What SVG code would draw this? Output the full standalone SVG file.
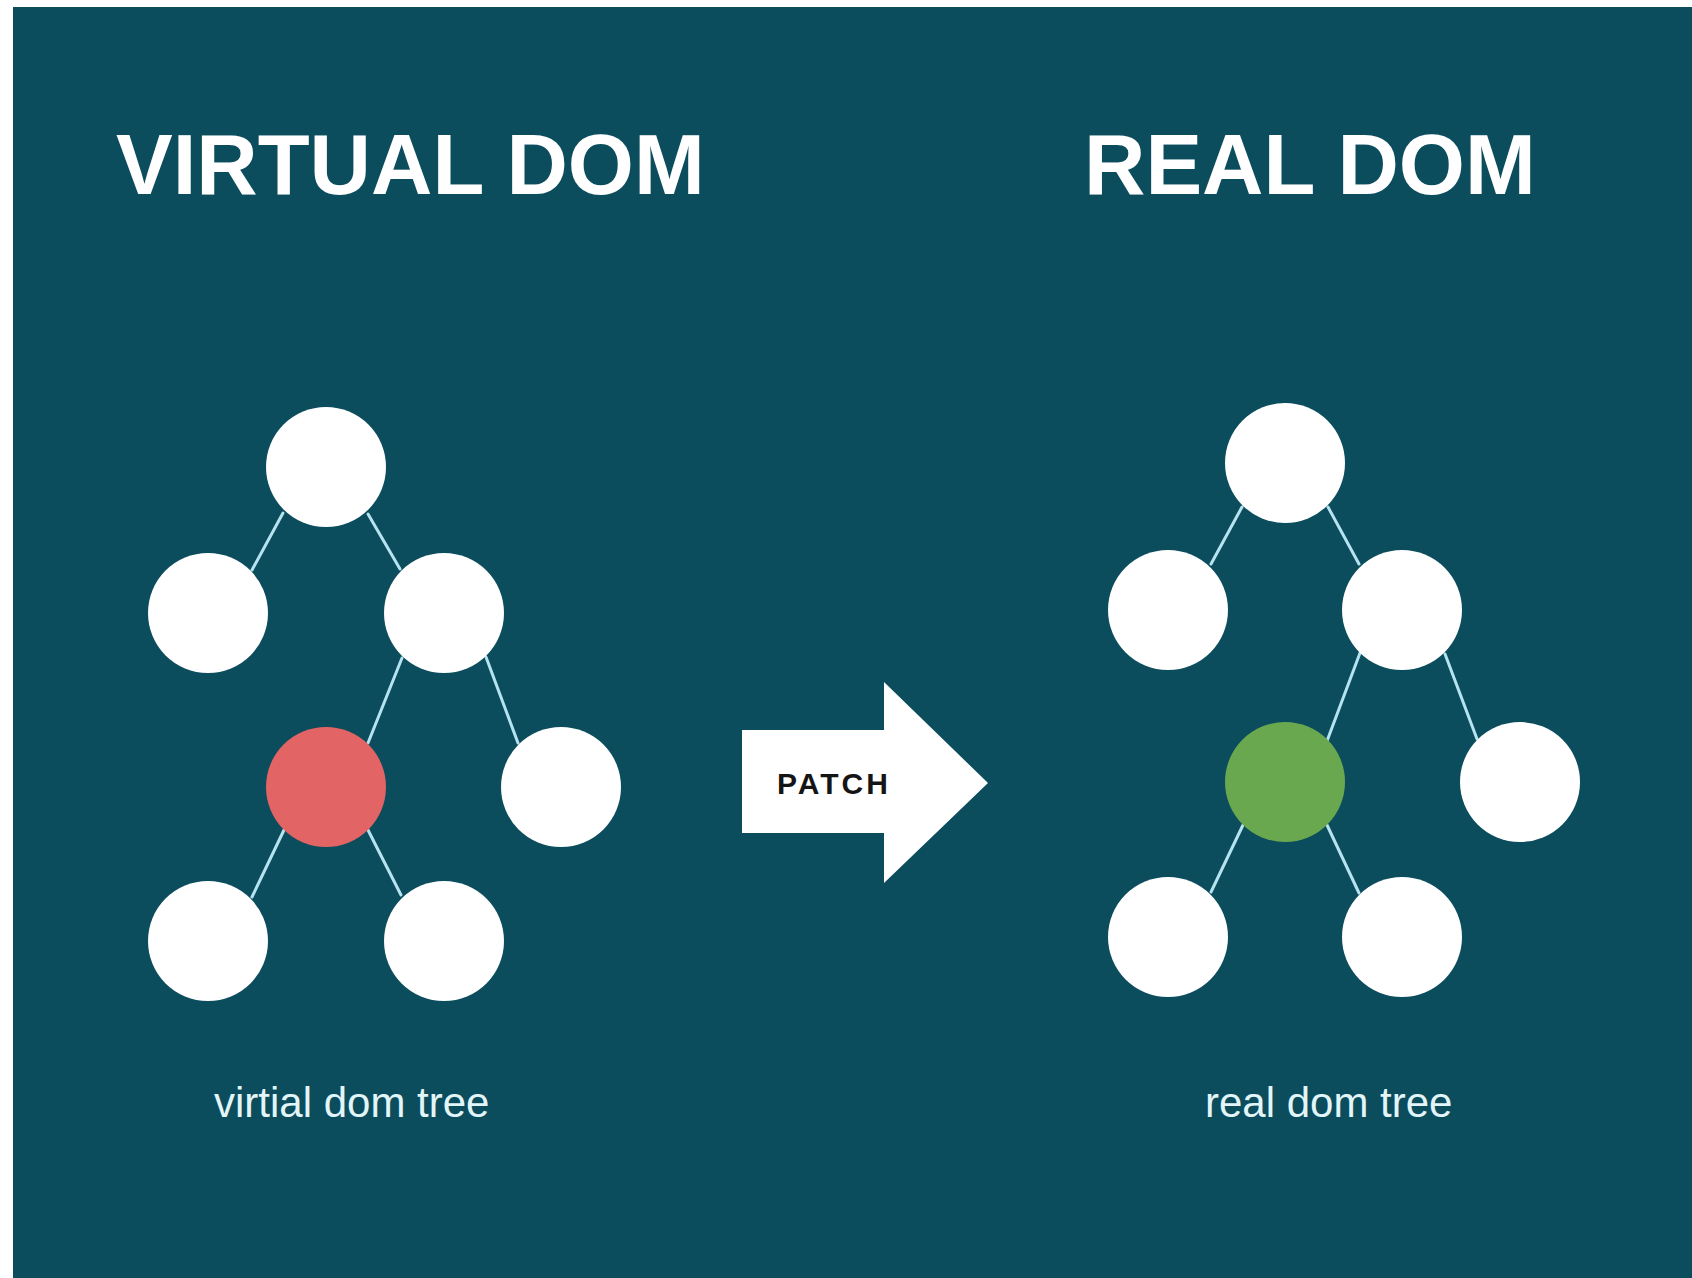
<svg xmlns="http://www.w3.org/2000/svg" width="1692" height="1278" viewBox="0 0 1692 1278">
<style>
.title{font-family:"Liberation Sans",Arial,sans-serif;font-weight:bold;font-size:85px;fill:#ffffff}
.sub{font-family:"Liberation Sans",Arial,sans-serif;font-size:42px;fill:#e2f5f8}
.node{fill:#ffffff}
.edge{stroke:#b5e3ef;stroke-width:3;stroke-linecap:round}
.patch{font-family:"Liberation Sans",Arial,sans-serif;font-weight:bold;font-size:30px;fill:#151515;letter-spacing:3px}
</style>
<rect x="0" y="0" width="1692" height="1278" fill="#ffffff"/>
<rect x="13" y="7" width="1679" height="1271" fill="#0b4c5d"/>
<text class="title" x="116" y="194">VIRTUAL DOM</text>
<text class="title" x="1084" y="194">REAL DOM</text>
<g id="connectors">
<line class="edge" x1="283" y1="513" x2="252" y2="570"/>
<line class="edge" x1="368" y1="514" x2="400" y2="569"/>
<line class="edge" x1="402" y1="658" x2="368" y2="743"/>
<line class="edge" x1="486" y1="657" x2="518" y2="743"/>
<line class="edge" x1="284" y1="830" x2="252" y2="897"/>
<line class="edge" x1="368" y1="830" x2="401" y2="895"/>
<line class="edge" x1="1242" y1="507" x2="1211" y2="564"/>
<line class="edge" x1="1328" y1="507" x2="1359" y2="564"/>
<line class="edge" x1="1360" y1="653" x2="1327" y2="741"/>
<line class="edge" x1="1445" y1="654" x2="1477" y2="739"/>
<line class="edge" x1="1243" y1="825" x2="1211" y2="892"/>
<line class="edge" x1="1327" y1="825" x2="1359" y2="893"/>
</g>
<g id="v-root"><circle class="node" cx="326" cy="467" r="60"/></g>
<g id="v-left"><circle class="node" cx="208" cy="613" r="60"/></g>
<g id="v-right"><circle class="node" cx="444" cy="613" r="60"/></g>
<g id="v-changed"><circle cx="326" cy="787" r="60" fill="#e36464"/></g>
<g id="v-right-right"><circle class="node" cx="561" cy="787" r="60"/></g>
<g id="v-bl"><circle class="node" cx="208" cy="941" r="60"/></g>
<g id="v-br"><circle class="node" cx="444" cy="941" r="60"/></g>
<g id="r-root"><circle class="node" cx="1285" cy="463" r="60"/></g>
<g id="r-left"><circle class="node" cx="1168" cy="610" r="60"/></g>
<g id="r-right"><circle class="node" cx="1402" cy="610" r="60"/></g>
<g id="r-changed"><circle cx="1285" cy="782" r="60" fill="#6aa84f"/></g>
<g id="r-right-right"><circle class="node" cx="1520" cy="782" r="60"/></g>
<g id="r-bl"><circle class="node" cx="1168" cy="937" r="60"/></g>
<g id="r-br"><circle class="node" cx="1402" cy="937" r="60"/></g>
<g id="patch-arrow">
<polygon fill="#ffffff" points="742,730 884,730 884,682 988,783 884,883 884,833 742,833"/>
<text class="patch" x="777" y="794">PATCH</text>
</g>
<text class="sub" x="214" y="1117">virtial dom tree</text>
<text class="sub" x="1205" y="1117">real dom tree</text>
</svg>
